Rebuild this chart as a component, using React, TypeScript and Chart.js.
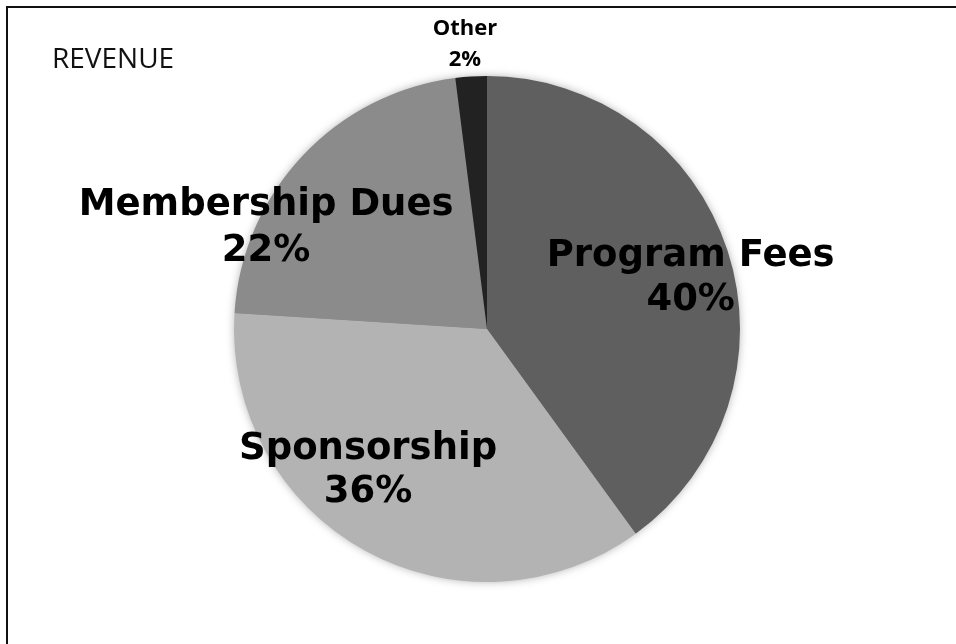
import React, { useEffect, useRef } from "react";
import { Chart, registerables } from "chart.js";

Chart.register(...registerables);

const categories = ["Program Fees", "Sponsorship", "Membership Dues", "Other"];
const shares = [40, 36, 22, 2];
const colors = ["#5f5f5f", "#b3b3b3", "#8b8b8b", "#222222"];
const title = "REVENUE";

// label placement (offsets relative to pie centre, in units of radius) and fonts
const labelLayout = [
  { fx: 0.805, fy: -0.201, font: "bold 37px 'DejaVu Sans'", gap: 44 },
  { fx: -0.47, fy: 0.559, font: "bold 37px 'DejaVu Sans'", gap: 43 },
  { fx: -0.873, fy: -0.399, font: "bold 37px 'DejaVu Sans'", gap: 46 },
  { fx: -0.087, fy: -1.124, font: "bold 22px 'Open Sans'", gap: 31 },
];

const labelPlugin = {
  id: "sliceLabels",
  beforeDatasetsDraw(chart: any) {
    const meta = chart.getDatasetMeta(0);
    const arc = meta.data[0];
    if (!arc) return;
    const { x, y, outerRadius } = arc.getProps(["x", "y", "outerRadius"], true);
    const ctx = chart.ctx;
    ctx.save();
    ctx.shadowColor = "rgba(0,0,0,0.35)";
    ctx.shadowBlur = 10;
    ctx.fillStyle = "#8b8b8b";
    ctx.beginPath();
    ctx.arc(x, y, outerRadius - 1, 0, Math.PI * 2);
    ctx.fill();
    ctx.restore();
  },
  afterDatasetsDraw(chart: any) {
    const meta = chart.getDatasetMeta(0);
    const arc = meta.data[0];
    if (!arc) return;
    const { x, y, outerRadius } = arc.getProps(["x", "y", "outerRadius"], true);
    const ctx = chart.ctx;
    ctx.save();
    ctx.fillStyle = "#000";
    ctx.textAlign = "center";
    ctx.textBaseline = "middle";
    categories.forEach((c, i) => {
      const l = labelLayout[i];
      const cx = x + l.fx * outerRadius;
      const cy = y + l.fy * outerRadius;
      ctx.font = l.font;
      ctx.fillText(c, cx, cy - l.gap / 2);
      ctx.fillText(shares[i] + "%", cx, cy + l.gap / 2);
    });
    ctx.restore();
  },
};

export default function App() {
  const ref = useRef<HTMLCanvasElement>(null);
  useEffect(() => {
    if (!ref.current) return;
    const chart = new Chart(ref.current, {
      type: "pie",
      data: {
        labels: categories,
        datasets: [
          {
            data: shares,
            backgroundColor: colors,
            borderWidth: 0,
          },
        ],
      },
      options: {
        animation: false,
        responsive: false,
        maintainAspectRatio: false,
        layout: { padding: { left: 234, top: 76, right: 216, bottom: 62 } },
        plugins: {
          legend: { display: false },
          tooltip: { enabled: false },
          title: { display: false },
        },
      },
      plugins: [labelPlugin],
    });
    return () => chart.destroy();
  }, []);
  return (
    <div style={{ position: "absolute", left: 0, top: 0, width: 956, height: 644, background: "#fff" }}>
      <canvas ref={ref} width={956} height={644} style={{ position: "absolute", left: 0, top: 0 }} />
      <div
        style={{
          position: "absolute",
          left: 6,
          top: 6,
          width: 950,
          height: 638,
          borderTop: "2px solid #111",
          borderLeft: "2px solid #111",
          pointerEvents: "none",
        }}
      />
      <div
        style={{
          position: "absolute",
          left: 52,
          top: 38,
          fontFamily: "'Open Sans'",
          fontSize: 28,
          lineHeight: "38px",
          color: "#111",
        }}
      >
        {title}
      </div>
    </div>
  );
}
